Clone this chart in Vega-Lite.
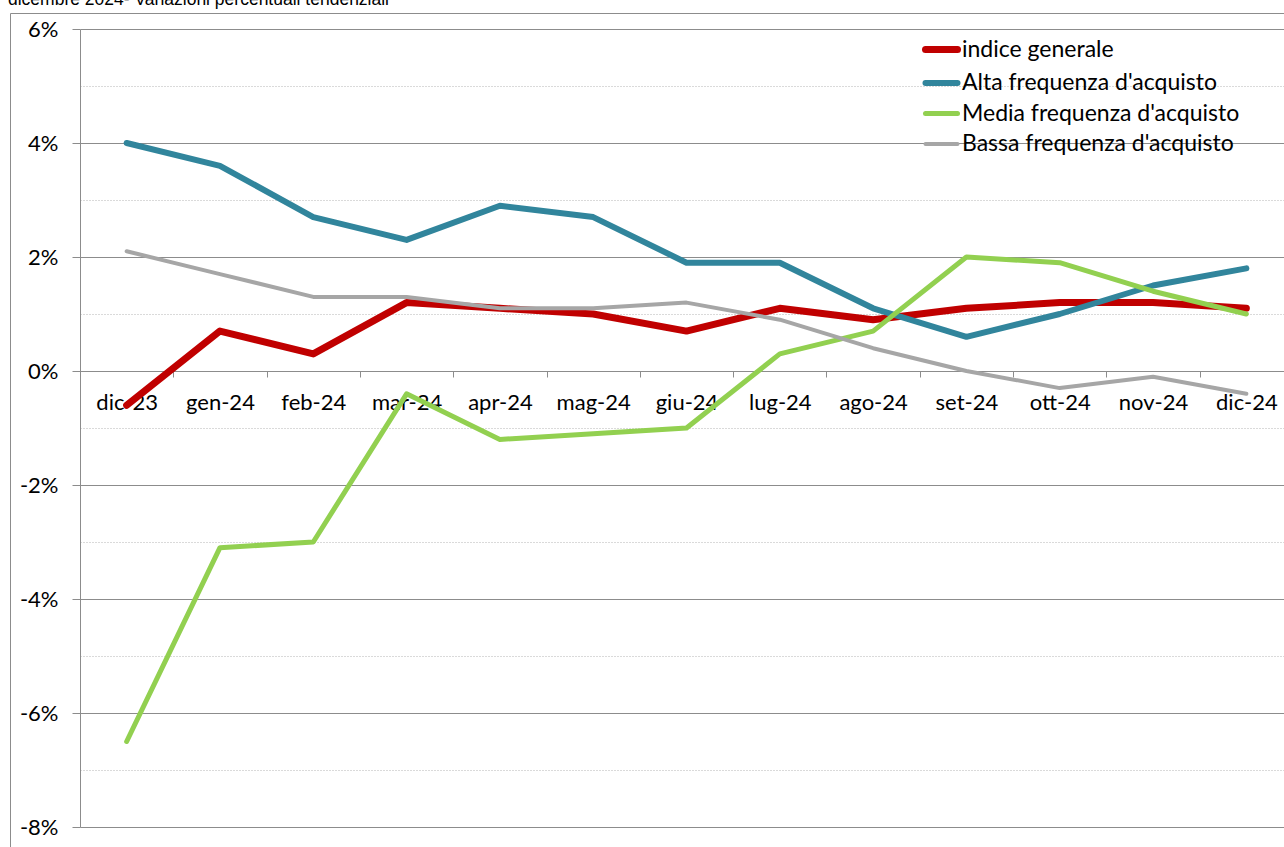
{
  "$schema": "https://vega.github.io/schema/vega-lite/v6.json",
  "width": 1204,
  "height": 798,
  "autosize": "none",
  "padding": {"left": 80, "top": 29, "right": 0, "bottom": 20},
  "background": "white",
  "title": {
    "text": "dicembre 2024- Variazioni percentuali tendenziali",
    "anchor": "start",
    "frame": "group",
    "font": "Liberation Sans",
    "fontSize": 17.5,
    "fontWeight": "normal",
    "color": "#000000",
    "dx": -72,
    "dy": 19,
    "offset": 10,
    "baseline": "alphabetic"
  },
  "config": {
    "view": {"stroke": null},
    "font": "Lato"
  },
  "data": {
    "values": [
      {"mese": "dic-23", "serie": "indice generale", "valore": -0.6},
      {"mese": "gen-24", "serie": "indice generale", "valore": 0.7},
      {"mese": "feb-24", "serie": "indice generale", "valore": 0.3},
      {"mese": "mar-24", "serie": "indice generale", "valore": 1.2},
      {"mese": "apr-24", "serie": "indice generale", "valore": 1.1},
      {"mese": "mag-24", "serie": "indice generale", "valore": 1.0},
      {"mese": "giu-24", "serie": "indice generale", "valore": 0.7},
      {"mese": "lug-24", "serie": "indice generale", "valore": 1.1},
      {"mese": "ago-24", "serie": "indice generale", "valore": 0.9},
      {"mese": "set-24", "serie": "indice generale", "valore": 1.1},
      {"mese": "ott-24", "serie": "indice generale", "valore": 1.2},
      {"mese": "nov-24", "serie": "indice generale", "valore": 1.2},
      {"mese": "dic-24", "serie": "indice generale", "valore": 1.1},
      {"mese": "dic-23", "serie": "Alta frequenza d'acquisto", "valore": 4.0},
      {"mese": "gen-24", "serie": "Alta frequenza d'acquisto", "valore": 3.6},
      {"mese": "feb-24", "serie": "Alta frequenza d'acquisto", "valore": 2.7},
      {"mese": "mar-24", "serie": "Alta frequenza d'acquisto", "valore": 2.3},
      {"mese": "apr-24", "serie": "Alta frequenza d'acquisto", "valore": 2.9},
      {"mese": "mag-24", "serie": "Alta frequenza d'acquisto", "valore": 2.7},
      {"mese": "giu-24", "serie": "Alta frequenza d'acquisto", "valore": 1.9},
      {"mese": "lug-24", "serie": "Alta frequenza d'acquisto", "valore": 1.9},
      {"mese": "ago-24", "serie": "Alta frequenza d'acquisto", "valore": 1.1},
      {"mese": "set-24", "serie": "Alta frequenza d'acquisto", "valore": 0.6},
      {"mese": "ott-24", "serie": "Alta frequenza d'acquisto", "valore": 1.0},
      {"mese": "nov-24", "serie": "Alta frequenza d'acquisto", "valore": 1.5},
      {"mese": "dic-24", "serie": "Alta frequenza d'acquisto", "valore": 1.8},
      {"mese": "dic-23", "serie": "Media frequenza d'acquisto", "valore": -6.5},
      {"mese": "gen-24", "serie": "Media frequenza d'acquisto", "valore": -3.1},
      {"mese": "feb-24", "serie": "Media frequenza d'acquisto", "valore": -3.0},
      {"mese": "mar-24", "serie": "Media frequenza d'acquisto", "valore": -0.4},
      {"mese": "apr-24", "serie": "Media frequenza d'acquisto", "valore": -1.2},
      {"mese": "mag-24", "serie": "Media frequenza d'acquisto", "valore": -1.1},
      {"mese": "giu-24", "serie": "Media frequenza d'acquisto", "valore": -1.0},
      {"mese": "lug-24", "serie": "Media frequenza d'acquisto", "valore": 0.3},
      {"mese": "ago-24", "serie": "Media frequenza d'acquisto", "valore": 0.7},
      {"mese": "set-24", "serie": "Media frequenza d'acquisto", "valore": 2.0},
      {"mese": "ott-24", "serie": "Media frequenza d'acquisto", "valore": 1.9},
      {"mese": "nov-24", "serie": "Media frequenza d'acquisto", "valore": 1.4},
      {"mese": "dic-24", "serie": "Media frequenza d'acquisto", "valore": 1.0},
      {"mese": "dic-23", "serie": "Bassa frequenza d'acquisto", "valore": 2.1},
      {"mese": "gen-24", "serie": "Bassa frequenza d'acquisto", "valore": 1.7},
      {"mese": "feb-24", "serie": "Bassa frequenza d'acquisto", "valore": 1.3},
      {"mese": "mar-24", "serie": "Bassa frequenza d'acquisto", "valore": 1.3},
      {"mese": "apr-24", "serie": "Bassa frequenza d'acquisto", "valore": 1.1},
      {"mese": "mag-24", "serie": "Bassa frequenza d'acquisto", "valore": 1.1},
      {"mese": "giu-24", "serie": "Bassa frequenza d'acquisto", "valore": 1.2},
      {"mese": "lug-24", "serie": "Bassa frequenza d'acquisto", "valore": 0.9},
      {"mese": "ago-24", "serie": "Bassa frequenza d'acquisto", "valore": 0.4},
      {"mese": "set-24", "serie": "Bassa frequenza d'acquisto", "valore": 0.0},
      {"mese": "ott-24", "serie": "Bassa frequenza d'acquisto", "valore": -0.3},
      {"mese": "nov-24", "serie": "Bassa frequenza d'acquisto", "valore": -0.1},
      {"mese": "dic-24", "serie": "Bassa frequenza d'acquisto", "valore": -0.4}
    ]
  },
  "layer": [
    {
      "mark": {"type": "line", "strokeCap": "round", "strokeJoin": "round"},
      "encoding": {
        "x": {
          "field": "mese",
          "type": "nominal",
          "sort": ["dic-23", "gen-24", "feb-24", "mar-24", "apr-24", "mag-24", "giu-24", "lug-24", "ago-24", "set-24", "ott-24", "nov-24", "dic-24"],
          "scale": {"type": "band", "range": [0, 1213], "paddingInner": 0, "paddingOuter": 0},
          "axis": {
            "title": null,
            "offset": -456,
            "domain": false,
            "grid": false,
            "labelAngle": 0,
            "labelFontSize": 22,
            "labelColor": "#000000",
            "labelPadding": 15,
            "labelOverlap": false,
            "labelLimit": 0,
            "tickBand": "extent",
            "tickSize": 6,
            "tickColor": "#8c8c8c"
          }
        },
        "y": {
          "field": "valore",
          "type": "quantitative",
          "scale": {"domain": [-8, 6], "nice": false, "zero": false},
          "axis": {
            "title": null,
            "values": [-8, -7, -6, -5, -4, -3, -2, -1, 0, 1, 2, 3, 4, 5, 6],
            "labelExpr": "datum.value % 2 === 0 ? datum.value + '%' : ''",
            "labelFontSize": 22,
            "labelColor": "#000000",
            "labelPadding": 14,
            "labelBaseline": "middle",
            "tickSize": 8,
            "tickColor": "#8c8c8c",
            "tickOpacity": {"condition": {"test": "datum.value % 2 !== 0", "value": 0}, "value": 1},
            "domainColor": "#8c8c8c",
            "grid": true,
            "gridColor": {"condition": {"test": "datum.value % 2 !== 0", "value": "#b4b4b4"}, "value": "#8c8c8c"},
            "gridDash": {"condition": {"test": "datum.value % 2 !== 0", "value": [1, 2]}, "value": []},
            "gridOpacity": 1
          }
        },
        "color": {
          "field": "serie",
          "type": "nominal",
          "scale": {
            "domain": ["indice generale", "Alta frequenza d'acquisto", "Media frequenza d'acquisto", "Bassa frequenza d'acquisto"],
            "range": ["#C00000", "#31859C", "#92D050", "#A6A6A6"]
          },
          "legend": {
            "orient": "none",
            "legendX": 842,
            "legendY": 1,
            "title": null,
            "labelFontSize": 23,
            "labelColor": "#000000",
            "labelOffset": 1,
            "labelLimit": 0,
            "symbolType": "stroke",
            "symbolSize": 1024,
            "rowPadding": -3,
            "encode": {"symbols": {"update": {"strokeCap": {"value": "round"}}}}
          }
        },
        "strokeWidth": {
          "field": "serie",
          "type": "nominal",
          "scale": {
            "domain": ["indice generale", "Alta frequenza d'acquisto", "Media frequenza d'acquisto", "Bassa frequenza d'acquisto"],
            "range": [7, 4, 4, 4]
          },
          "legend": {
            "orient": "none",
            "legendX": 842,
            "legendY": 1,
            "title": null,
            "labelFontSize": 23,
            "labelColor": "#000000",
            "labelOffset": 1,
            "labelLimit": 0,
            "symbolType": "stroke",
            "symbolSize": 1024,
            "rowPadding": -3,
            "encode": {"symbols": {"update": {"strokeCap": {"value": "round"}}}}
          }
        }
      }
    },
    {
      "mark": {"type": "line", "opacity": 0},
      "encoding": {
        "x": {
          "field": "mese",
          "type": "nominal",
          "scale": {"type": "band", "range": [-70, 1204]},
          "axis": {"orient": "top", "offset": 16, "labels": false, "ticks": false, "grid": false, "domainColor": "#8c8c8c", "title": null}
        },
        "y": {
          "field": "valore",
          "type": "quantitative",
          "scale": {"domain": [-8, 6], "nice": false, "zero": false, "range": [818, -16]},
          "axis": {"orient": "left", "offset": 70, "labels": false, "ticks": false, "grid": false, "domainColor": "#8c8c8c", "title": null}
        }
      }
    }
  ],
  "resolve": {
    "scale": {"x": "independent", "y": "independent"},
    "axis": {"x": "independent", "y": "independent"}
  }
}
